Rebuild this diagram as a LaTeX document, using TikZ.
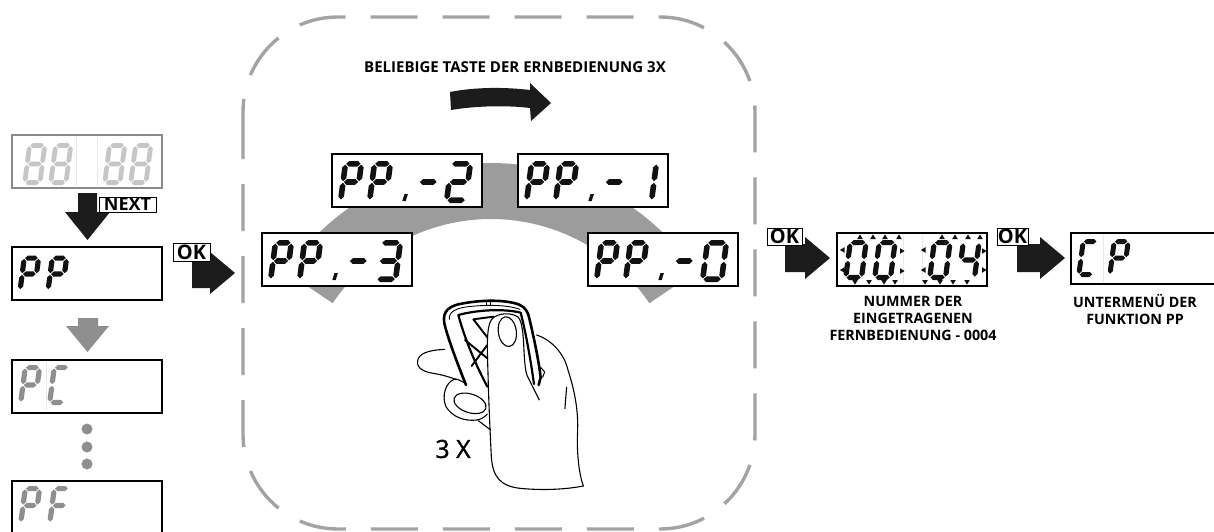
\documentclass[tikz,border=0pt]{standalone}
\usepackage{fontspec}
\setmainfont{Open Sans}
\newfontfamily\medfont[FakeBold=1.2]{Open Sans}
\definecolor{segblack}{HTML}{111111}
\definecolor{seggray}{HTML}{8F8F8F}
\definecolor{seglight}{HTML}{C6C6C6}
\definecolor{boxgray}{HTML}{8A8A8A}
\definecolor{bandgray}{HTML}{9C9C9C}
\definecolor{dashgray}{HTML}{A3A3A3}
\definecolor{arrowblack}{HTML}{1C1C1C}
\definecolor{faintline}{HTML}{E8E8E8}
% seven segment helpers
\newcommand\ssegH[1]{\fill ({\sh+\sg},{#1}) -- ({2*\sh+\sg},{#1-\sh}) -- ({\sW-2*\sh-\sg},{#1-\sh}) -- ({\sW-\sh-\sg},{#1}) -- ({\sW-2*\sh-\sg},{#1+\sh}) -- ({2*\sh+\sg},{#1+\sh}) -- cycle;}
\newcommand\ssegV[3]{\fill ({#1},{#2}) -- ({#1+\sh},{#2+\sh}) -- ({#1+\sh},{#3-\sh}) -- ({#1},{#3}) -- ({#1-\sh},{#3-\sh}) -- ({#1-\sh},{#2+\sh}) -- cycle;}
\def\ssegA{\ssegH{\sh}}
\def\ssegG{\ssegH{\sH/2}}
\def\ssegD{\ssegH{\sH-\sh}}
\def\ssegB{\ssegV{\sW-\sh}{\sh+\sg}{\sH/2-\sg}}
\def\ssegC{\ssegV{\sW-\sh}{\sH/2+\sg}{\sH-\sh-\sg}}
\def\ssegE{\ssegV{\sh}{\sH/2+\sg}{\sH-\sh-\sg}}
\def\ssegF{\ssegV{\sh}{\sh+\sg}{\sH/2-\sg}}
% #1 x0, #2 y0, #3 W, #4 H, #5 thickness, #6 segments, #7 colour
\newcommand\ssd[7]{%
 \begin{scope}[shift={(#1,#2)}, xslant=0.13, fill=#7]
  \def\sW{#3}\def\sH{#4}\def\sh{#5/2}\def\sg{0.8}%
  \foreach \s in {#6}{\csname sseg\s\endcsname}%
 \end{scope}}
% P P . - X display
\newcommand\ppdisp[4]{%
 \node[disp] (#1) at (#2,#3) {};
 \ssd{#2+11}{#3+7}{21.5}{42}{5.6}{A,B,G,E,F}{segblack}
 \ssd{#2+40}{#3+7}{21.5}{42}{5.6}{A,B,G,E,F}{segblack}
 \fill[segblack] ({#2+72.5},{#3+40}) -- ++(3.4,0) -- ++(-2.2,7) -- ++(-3.4,0) -- cycle;
 \ssd{#2+87}{#3+7}{24}{42}{5.6}{G}{segblack}
 \ssd{#2+117}{#3+7}{24.5}{42}{5.6}{#4}{segblack}}
\newcommand\triU[2]{\fill[segblack] ({#1-2.8},{#2+2}) -- ({#1+2.8},{#2+2}) -- ({#1},{#2-2.6}) -- cycle;}
\newcommand\triD[2]{\fill[segblack] ({#1-2.8},{#2-2}) -- ({#1+2.8},{#2-2}) -- ({#1},{#2+2.6}) -- cycle;}
\newcommand\triL[2]{\fill[segblack] ({#1+2},{#2-2.8}) -- ({#1+2},{#2+2.8}) -- ({#1-2.6},{#2}) -- cycle;}
\newcommand\triR[2]{\fill[segblack] ({#1-2},{#2-2.8}) -- ({#1-2},{#2+2.8}) -- ({#1+2.6},{#2}) -- cycle;}
\begin{document}
\begin{tikzpicture}[x=1pt,y=-1pt,
  disp/.style={draw=black, line width=1.1pt, fill=white, minimum width=150pt, minimum height=53pt, inner sep=0pt, outer sep=0pt, anchor=north west},
  lbl/.style={draw=black, line width=1pt, fill=white, inner sep=0pt, font=\bfseries\fontsize{20}{20}\selectfont},
  caption/.style={font=\bfseries\fontsize{14.3}{17}\selectfont, align=center, inner sep=0pt},
  blockarrow/.style={fill=arrowblack},
  handline/.style={line width=1.1pt, line cap=round, line join=round}]
\useasboundingbox (0,0) rectangle (1214,532);

% dashed frame
\draw[dashgray, line width=3.4pt, dash pattern=on 47pt off 25pt, rounded corners=95pt] (243,17) rectangle (755,529);

% title and curved arrow
\node[caption, font=\bfseries\fontsize{15}{18}\selectfont] (title) at (515,67) {BELIEBIGE TASTE DER ERNBEDIENUNG 3X};
\fill[blockarrow] (450,92) .. controls (475,87) and (505,87) .. (530,90) -- (530,83) -- (551,103) -- (531,121) -- (530,108) .. controls (505,105) and (475,106) .. (451,110) -- cycle;

% gray band
\fill[bandgray] plot[domain=214:326, samples=60] ({491+247*cos(\x)}, {410+247*sin(\x)}) -- plot[domain=326:214, samples=60] ({491+191*cos(\x)}, {410+191*sin(\x)}) -- cycle;

% ---------- left column ----------
\node[disp, draw=boxgray] (d88) at (12,135) {};
\draw[faintline, line width=0.8pt] (76,137) -- (76,186) (97,137) -- (97,186);
\ssd{27.5}{143}{20}{42}{4.8}{A,B,C,D,E,F,G}{seglight}
\ssd{53.5}{143}{20}{42}{4.8}{A,B,C,D,E,F,G}{seglight}
\ssd{107.5}{143}{20}{42}{4.8}{A,B,C,D,E,F,G}{seglight}
\ssd{133.5}{143}{20}{42}{4.8}{A,B,C,D,E,F,G}{seglight}

\fill[blockarrow] (78,193) -- (97,193) -- (97,212) -- (110,212) -- (87.5,240) -- (65,212) -- (78,212) -- cycle;
\node[lbl, minimum width=57pt, minimum height=15pt, font=\bfseries\fontsize{18}{18}\selectfont] (next) at (127.5,204.5) {NEXT};

\node[disp] (dpp) at (12,247) {};
\ssd{22}{255.5}{19.5}{37}{5.2}{A,B,G,E,F}{segblack}
\ssd{50}{255.5}{19.5}{37}{5.2}{A,B,G,E,F}{segblack}

\fill[seggray] (78,318) -- (98,318) -- (98,326) -- (109,326) -- (87.5,352) -- (66,326) -- (78,326) -- cycle;

\node[disp] (dpc) at (12,360) {};
\draw[faintline, line width=0.8pt] (46,362) -- (46,410);
\ssd{23}{365}{19.5}{40}{5.2}{A,B,G,E,F}{seggray}
\ssd{52}{365}{19.5}{40}{5.2}{A,F,E,D}{seggray}

\fill[seggray] (87,429) circle (5.5pt) (87,447) circle (5.5pt) (87,464) circle (5.5pt);

\node[disp, minimum height=70pt] (dpf) at (12,481) {};
\ssd{23}{486}{19.5}{39}{5.2}{A,B,G,E,F}{seggray}
\ssd{52}{486}{19.5}{39}{5.2}{A,F,G,E}{seggray}

% OK arrow into frame
\fill[blockarrow] (192,258) -- (210,258) -- (210,252) -- (235,273) -- (210,294) -- (210,288) -- (192,288) -- cycle;
\node[lbl, minimum width=37pt, minimum height=18pt] (ok1) at (191.5,252) {OK};

% ---------- frame contents ----------
\ppdisp{pp2}{332}{154}{A,B,G,E,D}
\ppdisp{pp1}{518}{154}{B,C}
\ppdisp{pp3}{262}{233}{A,B,G,C,D}
\ppdisp{pp0}{588}{233}{A,B,C,D,E,F}

% hand with remote
\begin{scope}[shift={(410,290)}, x=0.3333pt, y=-0.3333pt, handline]
\draw[line width=2.6pt] (168,285) .. controls (140,215) and (112,140) .. (103,100) .. controls (96,62) and (120,46) .. (160,40) .. controls (215,30) and (285,28) .. (328,44) .. controls (346,52) and (354,66) .. (358,85) .. controls (372,145) and (386,210) .. (392,262) -- (386,285);
\draw[line width=0.9pt] (118,88) .. controls (115,65) and (140,54) .. (175,50) .. controls (230,44) and (290,44) .. (330,58);
\draw[line width=0.9pt] (230,30) -- (230,44) (240,30) -- (240,44);
\draw[line width=2.2pt] (232,290) .. controls (200,230) and (165,150) .. (145,75) .. controls (200,60) and (280,55) .. (332,68) .. controls (348,130) and (362,210) .. (372,282);
\draw[line width=1.9pt] (190,88) -- (250,80) (190,88) -- (232,142) (165,150) -- (232,205) (232,165) -- (185,228);
\draw[line width=1pt] (392,232) -- (404,246) -- (398,262);
\draw (104,178) .. controls (70,180) and (35,185) .. (25,205) .. controls (15,230) and (35,245) .. (70,250) .. controls (100,255) and (120,262) .. (138,268);
\draw (168,282) .. controls (150,270) and (140,266) .. (132,268) .. controls (105,280) and (95,320) .. (108,350) .. controls (125,380) and (165,395) .. (200,390) .. controls (215,388) and (225,380) .. (232,372);
\draw (205,392) -- (242,420);
\draw[rotate around={-18:(180,340)}] (180,340) ellipse [x radius=50, y radius=28];
\draw (520,588) .. controls (470,598) and (400,602) .. (330,595) .. controls (270,588) and (248,560) .. (244,500) .. controls (240,420) and (236,330) .. (234,250) .. controls (232,180) and (228,110) .. (245,88) .. controls (262,68) and (305,66) .. (325,82) .. controls (340,100) and (340,150) .. (343,200) .. controls (345,230) and (348,250) .. (352,258) .. controls (365,285) and (378,310) .. (388,330);
\draw (380,135) .. controls (425,150) and (462,190) .. (474,240) .. controls (490,290) and (505,350) .. (503,420) .. controls (500,480) and (505,545) .. (520,588);
\draw[rotate around={8:(292,125)}] (292,125) ellipse [x radius=27, y radius=45];
\draw (470,292) .. controls (468,315) and (466,335) .. (465,356);
\end{scope}
\node[font=\medfont\fontsize{25}{28}\selectfont, inner sep=0pt] (times) at (453,449) {3 X};

% ---------- right part ----------
\fill[blockarrow] (785,244) -- (805,244) -- (805,237) -- (830,258) -- (805,279) -- (805,272) -- (785,272) -- cycle;
\node[lbl, minimum width=35pt, minimum height=17pt] (ok2) at (784.5,236.5) {OK};

\node[disp] (d0004) at (837,233) {};
\draw[faintline, line width=0.8pt] (903,235) -- (903,284) (922,235) -- (922,284);
\ssd{848}{240}{21}{40}{5.2}{A,B,C,D,E,F}{segblack}
\ssd{877}{240}{21}{40}{5.2}{A,B,C,D,E,F}{segblack}
\ssd{932}{240}{21}{40}{5.2}{A,B,C,D,E,F}{segblack}
\ssd{961}{240}{21}{40}{5.2}{F,B,G,C}{segblack}
\foreach \tx in {860,873,885,899,942,955,968,980} {\triU{\tx}{237}}
\foreach \tx in {855,869,884,895,925,940,953,967} {\triD{\tx}{282}}
\triL{842.5}{250}\triL{842.5}{270}\triL{923.5}{250}\triL{923.5}{270}
\triR{902}{251}\triR{902}{271}\triR{984}{251}\triR{984}{270}

\node[caption] (cap1) at (913,318) {NUMMER DER\\EINGETRAGENEN\\FERNBEDIENUNG - 0004};

\fill[blockarrow] (1017,244) -- (1040,244) -- (1040,237) -- (1065,258) -- (1040,279) -- (1040,272) -- (1017,272) -- cycle;
\node[lbl, minimum width=31pt, minimum height=17pt] (ok3) at (1012.5,236.5) {OK};

\node[disp, minimum width=160pt, minimum height=51pt] (dcp) at (1071,233) {};
\draw[faintline, line width=0.8pt] (1103,235) -- (1103,282);
\ssd{1081}{239}{19}{38}{5}{A,F,E,D}{segblack}
\ssd{1112}{239}{19}{38}{5}{A,B,G,E,F}{segblack}

\node[caption] (cap2) at (1135,310) {UNTERMENÜ DER\\FUNKTION PP};
\end{tikzpicture}
\end{document}
